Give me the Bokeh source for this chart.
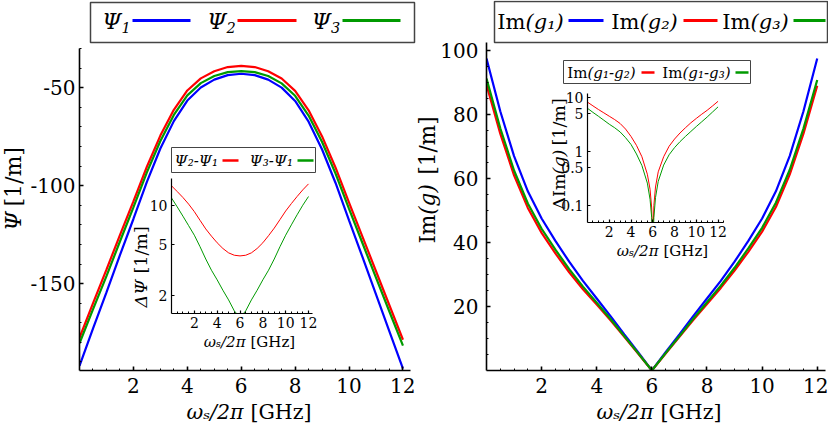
import math
from bokeh.plotting import figure
from bokeh.models import Range1d, FixedTicker, Label, GridBox
from bokeh.embed import file_html
from bokeh.resources import INLINE

# ---------------- data ----------------
freq_ghz = [0.0, 0.5, 1.0, 1.5, 2.0, 2.5, 3.0, 3.5, 4.0, 4.5, 5.0, 5.5, 6.0,
            6.5, 7.0, 7.5, 8.0, 8.5, 9.0, 9.5, 10.0, 10.5, 11.0, 11.5, 12.0]

psi_1 = [-192.0, -173.0, -154.5, -135.5, -117.0, -98.0, -81.0, -67.0, -56.5, -49.8, -45.8, -43.5, -42.8,
         -43.5, -45.8, -49.9, -56.7, -67.3, -81.5, -98.6, -117.7, -136.5, -155.5, -174.5, -193.5]
psi_2 = [-177.7, -160.1, -142.9, -125.2, -108.0, -90.3, -74.4, -61.2, -51.35, -45.15, -41.5, -39.38, -38.73,
         -39.38, -41.5, -45.25, -51.55, -61.45, -74.8, -90.8, -108.6, -126.1, -143.7, -161.2, -178.7]
psi_3 = [-180.5, -163.2, -146.2, -128.5, -111.1, -93.2, -77.15, -63.85, -53.85, -47.6, -43.95, -41.98, -41.45,
         -41.98, -43.95, -47.7, -54.05, -64.15, -77.65, -93.8, -111.8, -129.4, -147.0, -164.4, -181.7]

dpsi_21 = [14.3, 12.9, 11.6, 10.3, 9.0, 7.7, 6.6, 5.8, 5.15, 4.65, 4.3, 4.12, 4.07,
           4.12, 4.3, 4.65, 5.15, 5.85, 6.7, 7.8, 9.1, 10.4, 11.8, 13.3, 14.8]
dpsi_31 = [11.5, 9.8, 8.3, 7.0, 5.9, 4.8, 3.85, 3.15, 2.65, 2.2, 1.85, 1.52, 1.35,
           1.52, 1.85, 2.2, 2.65, 3.15, 3.85, 4.8, 5.9, 7.1, 8.5, 10.1, 11.8]

im_g1 = [97.5, 81.0, 67.0, 56.0, 47.5, 40.5, 34.0, 28.0, 22.5, 17.0, 11.3, 5.7, 0.0,
         5.7, 11.3, 17.0, 22.5, 28.0, 34.0, 40.5, 47.5, 56.0, 67.0, 81.0, 97.5]
im_g2 = [89.3, 74.0, 61.0, 50.8, 43.0, 36.6, 30.7, 25.4, 20.6, 15.7, 10.5, 5.32, 0.0,
         5.28, 10.5, 15.75, 20.8, 25.8, 31.25, 37.1, 43.4, 51.1, 61.2, 74.0, 89.0]
im_g3 = [91.2, 75.7, 62.5, 52.2, 44.3, 37.75, 31.7, 26.2, 21.15, 16.1, 10.75, 5.44, 0.0,
         5.42, 10.74, 16.13, 21.32, 26.48, 32.1, 38.15, 44.6, 52.45, 62.65, 75.6, 90.8]

freq_fine = [0.0, 0.5, 1.0, 1.5, 2.0, 2.5, 3.0, 3.5, 4.0, 4.5, 5.0, 5.5, 5.75, 5.9, 6.0, 6.1, 6.25,
             6.5, 7.0, 7.5, 8.0, 8.5, 9.0, 9.5, 10.0, 10.5, 11.0, 11.5, 12.0]
d_im_12 = [8.2, 7.0, 6.0, 5.2, 4.5, 3.9, 3.3, 2.6, 1.9, 1.3, 0.8, 0.38, 0.2, 0.09, 0.02, 0.1, 0.22,
           0.42, 0.8, 1.25, 1.7, 2.2, 2.75, 3.4, 4.1, 4.9, 5.8, 7.0, 8.5]
d_im_13 = [6.3, 5.3, 4.5, 3.8, 3.2, 2.75, 2.3, 1.8, 1.35, 0.9, 0.55, 0.26, 0.13, 0.06, 0.02, 0.06, 0.14,
           0.28, 0.56, 0.87, 1.18, 1.52, 1.9, 2.35, 2.9, 3.55, 4.35, 5.4, 6.7]

main_xticks = [2, 4, 6, 8, 10, 12]
main_xminor = [0.5, 1.0, 1.5, 2.5, 3.0, 3.5, 4.5, 5.0, 5.5, 6.5, 7.0, 7.5, 8.5, 9.0, 9.5, 10.5, 11.0, 11.5, 12.5]
psi_yticks = [-150, -100, -50]
psi_ylabels = {-150: "-150", -100: "-100", -50: "-50"}
psi_yminor = [-190, -180, -170, -160, -140, -130, -120, -110, -90, -80, -70, -60, -40, -30]
img_yticks = [20, 40, 60, 80, 100]
img_yminor = [5, 10, 15, 25, 30, 35, 45, 50, 55, 65, 70, 75, 85, 90, 95]
dpsi_yticks = [2, 5, 10]
dpsi_ylabels = {2: "2", 5: "5", 10: "10"}
dim_yticks = [0.1, 0.5, 1, 5, 10]
dim_ylabels = {0.1: "0.1", 0.5: "0.5", 1: "1", 5: "5", 10: "10"}

BLUE, RED, GREEN = "#0000ff", "#ff0000", "#009a00"
FONT = "DejaVu Serif"
W, H = 828, 424


def style_axes(p, fs, xstand, ystand, lw, tick_in=4, minor_in=2):
    for ax in (p.xaxis[0], p.yaxis[0]):
        ax.axis_line_width = lw
        ax.axis_line_color = "black"
        ax.major_tick_in = tick_in
        ax.major_tick_out = 0
        ax.minor_tick_in = minor_in
        ax.minor_tick_out = 0
        ax.major_tick_line_width = lw
        ax.major_tick_line_color = "black"
        ax.minor_tick_line_width = 1
        ax.minor_tick_line_color = "black"
        ax.major_label_text_font = FONT
        ax.major_label_text_font_size = f"{fs}px"
        ax.major_label_text_color = "black"
    p.xaxis[0].major_label_standoff = xstand
    p.yaxis[0].major_label_standoff = ystand
    p.xgrid.visible = False
    p.ygrid.visible = False
    p.outline_line_color = None


# ---------------- left main panel ----------------
pL = figure(width=415, height=H, x_range=Range1d(0, 12.28), y_range=Range1d(-194.4, -29.9),
            min_border_left=79, min_border_right=5, min_border_top=48, min_border_bottom=54,
            output_backend="svg", toolbar_location=None, frame_align=False)
style_axes(pL, 20, 7, 4, 1.6)
pL.xaxis.ticker = FixedTicker(ticks=main_xticks, minor_ticks=main_xminor)
pL.yaxis.ticker = FixedTicker(ticks=psi_yticks, minor_ticks=psi_yminor)
pL.yaxis.major_label_overrides = psi_ylabels
pL.line(freq_ghz, psi_1, color=BLUE, line_width=2.2)
pL.line(freq_ghz, psi_2, color=RED, line_width=2.2)
pL.line(freq_ghz, psi_3, color=GREEN, line_width=2.2)

# ---------------- right main panel ----------------
pR = figure(width=W - 415, height=H, x_range=Range1d(0, 12.3), y_range=Range1d(0, 102.5),
            min_border_left=71, min_border_right=3, min_border_top=42, min_border_bottom=54,
            output_backend="svg", toolbar_location=None, frame_align=False)
style_axes(pR, 20, 7, 8, 1.6)
pR.xaxis.ticker = FixedTicker(ticks=main_xticks, minor_ticks=main_xminor)
pR.yaxis.ticker = FixedTicker(ticks=img_yticks, minor_ticks=img_yminor)
pR.line(freq_ghz, im_g1, color=BLUE, line_width=2.2)
pR.line(freq_ghz, im_g2, color=RED, line_width=2.2)
pR.line(freq_ghz, im_g3, color=GREEN, line_width=2.2)

# ---------------- left inset ----------------
iL = figure(width=193, height=212, x_range=Range1d(0, 12.35), y_range=Range1d(1.45, 16.3),
            y_axis_type="log", min_border_left=46, min_border_right=6, min_border_top=38,
            min_border_bottom=39, output_backend="svg", toolbar_location=None,
            background_fill_alpha=0, border_fill_alpha=0, frame_align=False)
style_axes(iL, 14, 3, 4, 1.2, tick_in=3, minor_in=2)
iL.xaxis.ticker = FixedTicker(ticks=main_xticks, minor_ticks=main_xminor)
iL.yaxis.ticker = FixedTicker(ticks=dpsi_yticks, minor_ticks=[])
iL.yaxis.major_label_overrides = dpsi_ylabels
iL.line(freq_ghz, dpsi_21, color=RED, line_width=1)
iL.line(freq_ghz, dpsi_31, color=GREEN, line_width=1)
iL.margin = (140, 0, 0, 125)

# ---------------- right inset ----------------
iR = figure(width=202, height=204, x_range=Range1d(0, 12.5), y_range=Range1d(0.0484, 11.86),
            y_axis_type="log", min_border_left=37, min_border_right=29, min_border_top=37,
            min_border_bottom=38, output_backend="svg", toolbar_location=None,
            background_fill_alpha=0, border_fill_alpha=0, frame_align=False)
style_axes(iR, 14, 3, 4, 1.2, tick_in=3, minor_in=2)
iR.xaxis.ticker = FixedTicker(ticks=main_xticks, minor_ticks=main_xminor)
iR.yaxis.ticker = FixedTicker(ticks=dim_yticks, minor_ticks=[])
iR.yaxis.major_label_overrides = dim_ylabels
iR.line(freq_fine, d_im_12, color=RED, line_width=1)
iR.line(freq_fine, d_im_13, color=GREEN, line_width=1)
iR.margin = (56, 0, 0, 135)

# ---------------- overlay (legends and axis titles) in page pixels ----------------
ov = figure(width=W, height=H, x_range=Range1d(0, W), y_range=Range1d(H, 0),
            min_border_left=0, min_border_right=0, min_border_top=0, min_border_bottom=0,
            x_axis_location=None, y_axis_location=None, output_backend="svg",
            toolbar_location=None, background_fill_alpha=0, border_fill_alpha=0,
            frame_align=False)
ov.outline_line_color = None
ov.xgrid.visible = False
ov.ygrid.visible = False


def label(x, y, s, size, style="normal", align="left", angle=0.0):
    ov.add_layout(Label(x=x, y=y, text=s, text_font=FONT,
                        text_font_size=f"{size}px", text_font_style=style,
                        text_align=align, text_baseline="middle", angle=angle,
                        text_color="black"))


def box(l, t, r, b, lw):
    ov.quad(left=[l], right=[r], top=[t], bottom=[b],
            fill_color="white", line_color="#444444", line_width=lw)


def swatch(l, r, y, color, th):
    ov.quad(left=[l], right=[r], top=[y - th / 2], bottom=[y + th / 2],
            fill_color=color, line_color=None)


UP = math.pi / 2

# left main legend
box(90, 2, 414, 42, 1.5)
for joint, col, sub, s0, s1 in [(121, BLUE, "1", 132, 190), (226, RED, "2", 237, 296),
                                (330.5, GREEN, "3", 342, 400)]:
    label(joint, 20.5, "Ψ", 22, "italic", "right")
    label(joint, 26.5, sub, 14.5, "italic", "left")
    swatch(s0, s1, 20, col, 3)
# left main axis titles
label(13, 211, "Ψ", 22, "italic", "right", UP)
label(13, 206, "[1/m]", 22, "normal", "left", UP)
label(243, 411, "ωₛ/2π", 20.5, "italic", "right")
label(250, 411, "[GHz]", 20.5, "normal", "left")

# right main legend
box(494, 1, 827, 42, 1.5)
for joint, col, txt, s0, s1 in [(525, BLUE, "(g₁)", 568, 603), (639, RED, "(g₂)", 683, 717),
                                (750, GREEN, "(g₃)", 793, 825)]:
    label(joint, 21, "Im", 21, "normal", "right")
    label(joint, 21, txt, 21, "italic", "left")
    swatch(s0, s1, 20, col, 3)
# right main axis titles
label(427, 214, "Im", 21.5, "normal", "right", UP)
label(427, 199, "(g)", 21.5, "italic", "center", UP)
label(427, 174, "[1/m]", 21.5, "normal", "left", UP)
label(653, 411, "ωₛ/2π", 20.5, "italic", "right")
label(660, 411, "[GHz]", 20.5, "normal", "left")

# left inset legend and titles
box(171, 147, 315, 172, 1)
label(174, 160, "Ψ₂-Ψ₁", 15, "italic", "left")
swatch(222, 238, 160, RED, 2.5)
label(249, 160, "Ψ₃-Ψ₁", 15, "italic", "left")
swatch(297, 313, 160, GREEN, 2.5)
label(140, 279, "ΔΨ", 17.5, "italic", "right", UP)
label(140, 273, "[1/m]", 17.5, "normal", "left", UP)
label(245, 341, "ωₛ/2π", 15, "italic", "right")
label(250, 341, "[GHz]", 15, "normal", "left")

# right inset legend and titles
box(563, 60, 750, 83, 1)
for joint, col, txt, s0, s1 in [(587, RED, "(g₁-g₂)", 641, 654), (682, GREEN, "(g₁-g₃)", 735, 748)]:
    label(joint, 72, "Im", 15, "normal", "right")
    label(joint, 72, txt, 15, "italic", "left")
    swatch(s0, s1, 72, col, 2.5)
label(558, 173, "ΔIm", 17.5, "normal", "right", UP)
label(558, 161.5, "(g)", 17.5, "italic", "center", UP)
label(558, 145, "[1/m]", 17.5, "normal", "left", UP)
label(658, 250, "ωₛ/2π", 15, "italic", "right")
label(663, 250, "[GHz]", 15, "normal", "left")

grid = GridBox(children=[(pL, 0, 0), (pR, 0, 1), (iL, 0, 0), (iR, 0, 1), (ov, 0, 0, 1, 2)])

open("out.html", "w").write(file_html(grid, INLINE))
